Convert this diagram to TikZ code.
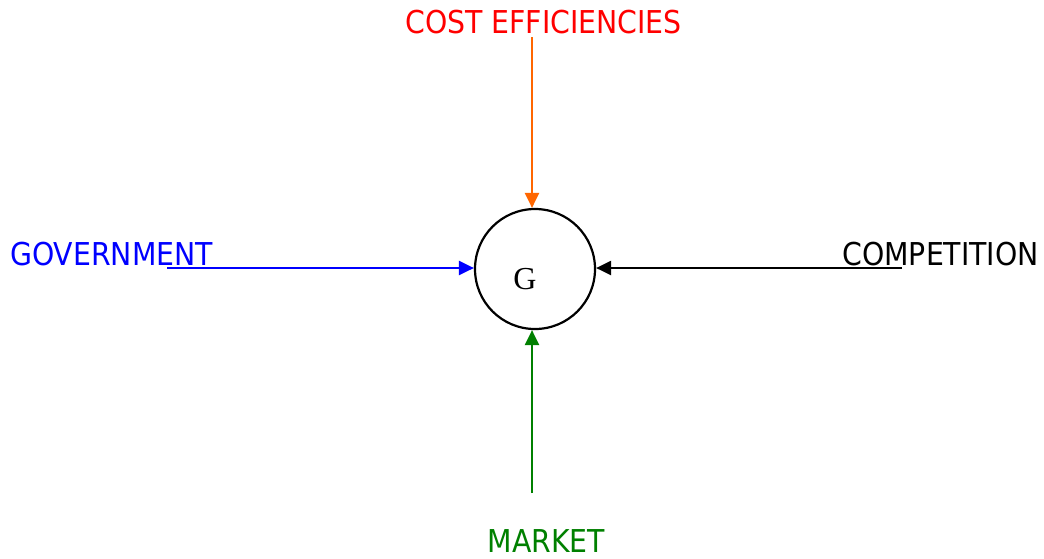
\documentclass[tikz,border=0pt]{standalone}
\usepackage{fontspec}
\setmainfont{DejaVu Sans Condensed}
\newfontfamily\gfont{Liberation Serif}
\usetikzlibrary{arrows.meta}
\definecolor{cblue}{RGB}{0,0,255}
\definecolor{cred}{RGB}{255,0,0}
\definecolor{corange}{RGB}{255,102,0}
\definecolor{cgreen}{RGB}{0,128,0}
\begin{document}
\begin{tikzpicture}[x=1pt,y=-1pt,
  lbl/.style={inner sep=0pt,font=\fontsize{31.5}{36}\selectfont},
  conn/.style={line width=2.2pt,-{Triangle[length=15pt,width=14pt]}}]
\useasboundingbox (0,0) rectangle (1044,558);
\node[draw,circle,line width=2.2pt,minimum size=120pt,inner sep=0pt] (g) at (535,269) {};
\node[inner sep=0pt,font=\gfont\fontsize{32}{36}\selectfont] (gl) at (525,279) {G};
\node[lbl,anchor=base west,text=cblue] (gov) at (10,265) {GOVERNMENT};
\node[lbl,anchor=base east,text=black] (comp) at (1039,265) {COMPETITION};
\node[lbl,anchor=base,text=cred] (cost) at (543.5,33) {COST EFFICIENCIES};
\node[lbl,anchor=base,text=cgreen] (mkt) at (546.5,552) {MARKET};
\coordinate (sgov) at (167,268);
\coordinate (scomp) at (902,268);
\coordinate (scost) at (532,37);
\coordinate (smkt) at (532,493);
\draw[conn,cblue] (sgov) -- (sgov -| g.west);
\draw[conn,black] (scomp) -- (scomp -| g.east);
\draw[conn,corange] (scost) -- (scost |- g.north);
\draw[conn,cgreen] (smkt) -- (smkt |- g.south);
\end{tikzpicture}
\end{document}
